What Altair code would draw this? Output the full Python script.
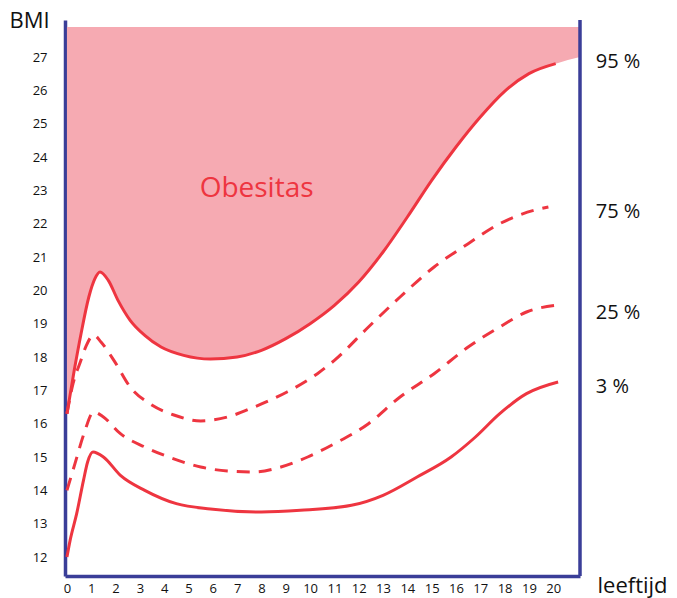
import altair as alt
import pandas as pd

# ---------------- data ----------------
age_ticks = list(range(0, 21))
bmi_ticks = list(range(12, 28))

age_95 = [0.0, 0.3, 0.58, 0.9, 1.15, 1.36, 1.7, 2.1, 2.6, 3.2, 3.87, 4.8, 5.9, 7.0, 8.0,
          9.0, 10.0, 11.0, 12.0, 13.0, 14.0, 15.0, 16.0, 17.0, 18.0, 19.0, 20.1]
bmi_95 = [16.3, 17.6, 18.7, 19.8, 20.35, 20.55, 20.3, 19.7, 19.1, 18.65, 18.3, 18.05, 17.94, 18.0, 18.2,
          18.55, 19.0, 19.55, 20.25, 21.15, 22.2, 23.3, 24.3, 25.2, 25.97, 26.5, 26.8]

age_75 = [0.0, 0.25, 0.55, 0.8, 1.1, 1.4, 1.93, 2.6, 3.4, 4.4, 5.5, 6.6, 7.7, 9.05, 10.3,
          11.0, 12.4, 13.7, 15.1, 16.5, 17.8, 19.2, 19.8]
bmi_75 = [16.3, 17.2, 17.85, 18.35, 18.66, 18.45, 17.9, 17.1, 16.6, 16.26, 16.08, 16.2, 16.5, 16.95, 17.5,
          17.9, 18.9, 19.8, 20.7, 21.4, 22.0, 22.4, 22.5]

age_25 = [0.0, 0.33, 0.7, 1.1, 1.5, 2.2, 3.2, 4.3, 5.5, 6.6, 7.7, 8.8, 9.9,
          11.0, 12.4, 13.7, 15.1, 16.5, 17.8, 18.9, 20.2]
bmi_25 = [14.0, 14.8, 15.7, 16.35, 16.2, 15.7, 15.3, 14.97, 14.7, 14.58, 14.55, 14.7, 15.0,
          15.4, 16.0, 16.8, 17.5, 18.3, 18.9, 19.35, 19.56]

age_3 = [0.0, 0.13, 0.4, 0.68, 0.85, 1.07, 1.5, 2.2, 3.2, 4.5, 5.9, 8.0, 9.6,
         11.7, 13.0, 14.4, 15.8, 16.8, 17.8, 18.9, 20.2]
bmi_3 = [12.0, 12.5, 13.3, 14.3, 14.85, 15.15, 15.0, 14.45, 14.0, 13.6, 13.44, 13.35, 13.4,
         13.55, 13.85, 14.4, 15.0, 15.6, 16.3, 16.9, 17.25]

# obesity zone: above the 95% curve, continuing to the right edge
fill_age = age_95 + [21.1]
fill_bmi = bmi_95 + [27.0]
FILL_TOP = 27.9

pct_labels = ["95 %", "75 %", "25 %", "3 %"]
pct_age = [21.75, 21.75, 21.75, 21.75]
pct_bmi = [26.85, 22.35, 19.32, 17.1]

zone_label = ["Obesitas"]
zone_age = [7.8]
zone_bmi = [23.05]

# ---------------- styling ----------------
RED = "#ee3540"
PINK = "#f6aab2"
BLUE = "#3a3e98"
FONT = "Open Sans"

x_scale = alt.Scale(domain=[-0.08, 21.1], nice=False, zero=False)
y_scale = alt.Scale(domain=[11.43, 28.11], nice=False, zero=False)

x_axis = alt.Axis(values=age_ticks, title="leeftijd", ticks=False, grid=False, labelOverlap=False,
                  labelFlush=False, labelBound=False,
                  domainColor=BLUE, domainWidth=3.5, labelFontSize=13, labelPadding=6,
                  labelColor="#111111", labelFont=FONT,
                  titleFont=FONT, titleFontSize=22, titleFontWeight="normal", titleColor="#111111",
                  titleX=532, titleY=16, titleAlign="left", titleBaseline="alphabetic")
y_axis = alt.Axis(values=bmi_ticks, title="BMI", ticks=False, grid=False, labelOverlap=False,
                  labelFlush=False, labelBound=False,
                  domainColor=BLUE, domainWidth=3.5, labelFontSize=13, labelPadding=18,
                  labelColor="#111111", labelFont=FONT,
                  titleFont=FONT, titleFontSize=22, titleFontWeight="normal", titleColor="#111111",
                  titleAngle=0, titleX=-56, titleY=7, titleAlign="left", titleBaseline="alphabetic")


def X():
    return alt.X("age:Q", scale=x_scale, axis=x_axis)


def Y():
    return alt.Y("bmi:Q", scale=y_scale, axis=y_axis)


fill_df = pd.DataFrame({"age": fill_age, "bmi": fill_bmi})
area = alt.Chart(fill_df).mark_area(color=PINK, opacity=1, interpolate="monotone").encode(
    x=X(), y=Y(), y2=alt.datum(FILL_TOP),
)


def curve(ages, bmis, dashed):
    df = pd.DataFrame({"age": ages, "bmi": bmis})
    kw = dict(color=RED, strokeWidth=3, interpolate="monotone", strokeCap="butt")
    if dashed:
        kw["strokeDash"] = [13, 9]
    return alt.Chart(df).mark_line(**kw).encode(x=X(), y=Y())


l95 = curve(age_95, bmi_95, False)
l75 = curve(age_75, bmi_75, True)
l25 = curve(age_25, bmi_25, True)
l3 = curve(age_3, bmi_3, False)

right_line = alt.Chart(pd.DataFrame({"a": [0]})).mark_rule(color=BLUE, strokeWidth=3.5).encode(
    x=alt.value(515), y=alt.value(0), y2=alt.value(556)
)

pct_df = pd.DataFrame({"label": pct_labels, "age": pct_age, "bmi": pct_bmi})
pct_text = alt.Chart(pct_df).mark_text(align="left", baseline="middle", fontSize=20,
                                       font=FONT, color="#111111").encode(
    x=X(), y=Y(), text="label:N"
)

zone_df = pd.DataFrame({"label": zone_label, "age": zone_age, "bmi": zone_bmi})
zone_text = alt.Chart(zone_df).mark_text(align="center", baseline="middle", fontSize=28,
                                         font=FONT, color=RED).encode(
    x=X(), y=Y(), text="label:N"
)

chart = alt.layer(area, l95, l75, l25, l3, right_line, pct_text, zone_text).properties(
    width=515, height=556,
    background="white",
    autosize=alt.AutoSizeParams(type="none"),
    padding={"left": 57, "top": 12, "right": 89, "bottom": 22},
).configure_view(stroke=None).configure_axis(labelOverlap=False)

chart.save("out.html", embed_options={"renderer": "svg", "actions": False})
